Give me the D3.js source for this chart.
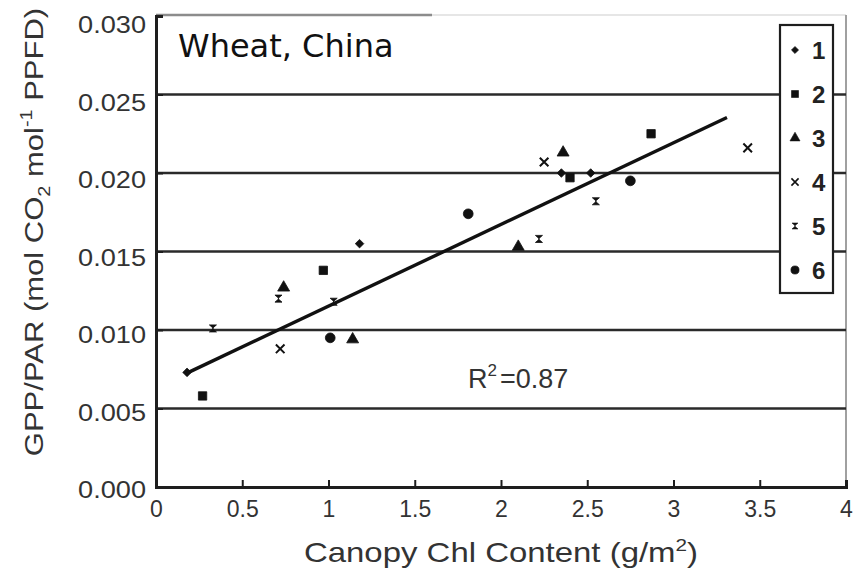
<!DOCTYPE html>
<html>
<head>
<meta charset="utf-8">
<script src="https://cdn.jsdelivr.net/npm/d3@7"></script>
<style>
  html, body { margin: 0; padding: 0; background: #fff; }
  svg { display: block; }
</style>
</head>
<body>
<svg id="chart" width="859" height="579"></svg>
<script>
// Canopy chlorophyll content (g/m2) vs light-use ratio GPP/PAR, six wheat sites
const seriesNames = ["1", "2", "3", "4", "5", "6"];
const chl1 = [0.18, 1.18, 2.35, 2.52];
const gpp1 = [0.0073, 0.0155, 0.0200, 0.0200];
const chl2 = [0.27, 0.97, 2.40, 2.87];
const gpp2 = [0.0058, 0.0138, 0.0197, 0.0225];
const chl3 = [0.74, 1.14, 2.10, 2.36];
const gpp3 = [0.0127, 0.0094, 0.0153, 0.0213];
const chl4 = [0.72, 2.25, 3.43];
const gpp4 = [0.0088, 0.0207, 0.0216];
const chl5 = [0.33, 0.71, 1.03, 2.22, 2.55];
const gpp5 = [0.0101, 0.0120, 0.0118, 0.0158, 0.0182];
const chl6 = [1.01, 1.81, 2.75];
const gpp6 = [0.0095, 0.0174, 0.0195];

// Linear fit drawn over the sampled range
const fitChl = [0.17, 3.31];
const fitSlope = 0.00520;
const fitIntercept = 0.00632;
const rSquared = "0.87";

const xTicks = [0, 0.5, 1, 1.5, 2, 2.5, 3, 3.5, 4];
const yTicks = [0, 0.005, 0.010, 0.015, 0.020, 0.025, 0.030];
const gridValues = [0.005, 0.010, 0.015, 0.020, 0.025];

const chlSeries = [chl1, chl2, chl3, chl4, chl5, chl6];
const gppSeries = [gpp1, gpp2, gpp3, gpp4, gpp5, gpp6];

const SANS = "'Liberation Sans', Arial, sans-serif";
const svg = d3.select("#chart").style("font-family", SANS);
const W = 859, H = 579;
const m = { left: 156, top: 16, right: 13, bottom: 92 };

const x = d3.scaleLinear().domain([0, 4]).range([m.left, W - m.right]);
const y = d3.scaleLinear().domain([0, 0.03]).range([H - m.bottom, m.top]);
// tick labels sit on a slightly compressed scale of their own
const yLab = d3.scaleLinear().domain([0, 0.03]).range([H - m.bottom + 3, m.top + 9]);

const ink = "#1e1e1e";
const labelInk = "#333";
const wide = 1.18; // horizontal widening of the axis lettering

// custom hourglass marker
const symbolHourglass = {
  draw(ctx, size) {
    const r = Math.sqrt(size) / 2;
    ctx.moveTo(-r, -r); ctx.lineTo(r, -r); ctx.lineTo(-r * 0.15, 0); ctx.lineTo(r, r);
    ctx.lineTo(-r, r); ctx.lineTo(r * 0.15, 0); ctx.closePath();
  }
};
const symbolRotSquare = {
  draw(ctx, size) {
    const r = Math.sqrt(size) / 2 * 1.35;
    ctx.moveTo(0, -r); ctx.lineTo(r, 0); ctx.lineTo(0, r); ctx.lineTo(-r, 0); ctx.closePath();
  }
};
const markers = [
  { type: symbolRotSquare, size: 40, fill: true },
  { type: d3.symbolSquare, size: 70, fill: true },
  { type: d3.symbolTriangle, size: 62, fill: true },
  { type: d3.symbolX, size: 50, fill: false },
  { type: symbolHourglass, size: 50, fill: true },
  { type: d3.symbolCircle, size: 75, fill: true }
];

// frame: top and right edges in light grey
svg.append("line").attr("x1", x(0)).attr("x2", x(1.6)).attr("y1", y(0.03) - 1).attr("y2", y(0.03) - 1)
  .attr("stroke", "#8c8c8c").attr("stroke-width", 2.4);
svg.append("line").attr("x1", x(1.6)).attr("x2", x(4)).attr("y1", y(0.03) - 1).attr("y2", y(0.03) - 1)
  .attr("stroke", "#e6e6e6").attr("stroke-width", 2);
svg.append("line").attr("x1", x(4)).attr("x2", x(4)).attr("y1", y(0.03) - 1).attr("y2", y(0))
  .attr("stroke", "#a0a0a0").attr("stroke-width", 2);

// horizontal grid
svg.append("g").selectAll("line").data(gridValues).join("line")
  .attr("x1", x(0)).attr("x2", x(4))
  .attr("y1", d => y(d)).attr("y2", d => y(d))
  .attr("stroke", "#2a2a2a").attr("stroke-width", 2.6);

// x axis (ticks point inward)
const gx = svg.append("g").attr("transform", `translate(0,${y(0)})`)
  .call(d3.axisBottom(x).tickValues(xTicks).tickSize(-7).tickPadding(14).tickFormat(d3.format("")));
gx.select(".domain").attr("stroke", ink).attr("stroke-width", 3);
gx.selectAll(".tick line").attr("stroke", ink).attr("stroke-width", 2);
gx.selectAll(".tick text").style("font-family", SANS).attr("font-size", 23).attr("fill", labelInk);

// y axis
const gy = svg.append("g").attr("transform", `translate(${x(0)},0)`)
  .call(d3.axisLeft(y).tickValues(yTicks).tickSize(-7).tickFormat(() => ""));
gy.select(".domain").attr("stroke", ink).attr("stroke-width", 3);
gy.selectAll(".tick line").attr("stroke", ink).attr("stroke-width", 2);
svg.append("g").selectAll("text").data(yTicks).join("text")
  .attr("transform", d => `translate(${x(0) - 10},${yLab(d)}) scale(${wide},1)`)
  .attr("dy", "0.35em")
  .attr("text-anchor", "end").attr("font-size", 23).attr("fill", labelInk)
  .text(d3.format(".3f"));

// fitted line
const fitLine = d3.line().x(d => x(d)).y(d => y(fitIntercept + fitSlope * d));
svg.append("path").datum(fitChl).attr("d", fitLine)
  .attr("fill", "none").attr("stroke", "#111").attr("stroke-width", 3.4);

// points
chlSeries.forEach((xs, i) => {
  const mk = markers[i];
  const sym = d3.symbol().type(mk.type).size(mk.size);
  svg.append("g").selectAll("path").data(xs.map((v, j) => [v, gppSeries[i][j]])).join("path")
    .attr("transform", d => `translate(${x(d[0])},${y(d[1])})`)
    .attr("d", sym)
    .attr("fill", mk.fill ? "#111" : "none")
    .attr("stroke", "#111").attr("stroke-width", mk.fill ? 0.8 : 2);
});

// legend
const lg = svg.append("g").attr("transform", "translate(780,25)");
lg.append("rect").attr("width", 53).attr("height", 268)
  .attr("fill", "#fff").attr("stroke", ink).attr("stroke-width", 2.2);
seriesNames.forEach((name, i) => {
  const mk = markers[i];
  const cy = 25 + i * 44;
  lg.append("path").attr("transform", `translate(15,${cy})`)
    .attr("d", d3.symbol().type(mk.type).size(mk.size * 0.7))
    .attr("fill", mk.fill ? "#111" : "none").attr("stroke", "#111").attr("stroke-width", mk.fill ? 0.6 : 1.6);
  lg.append("text").attr("x", 32).attr("y", cy).attr("dy", "0.36em")
    .attr("font-size", 24).attr("font-weight", "bold").attr("fill", "#222").text(name);
});

// annotations
svg.append("text").attr("x", 178).attr("y", 57)
  .style("font-family", "'DejaVu Sans', Verdana, sans-serif").attr("font-size", 32).attr("fill", "#111")
  .text("Wheat, China");

const r2 = svg.append("text").attr("x", 468).attr("y", 388).attr("font-size", 27).attr("fill", labelInk);
r2.append("tspan").text("R");
r2.append("tspan").attr("font-size", 17).attr("dy", -12).text("2");
r2.append("tspan").attr("dy", 12).attr("dx", 3).text("=" + rSquared);

// axis titles
const xt = svg.append("text")
  .attr("transform", `translate(${x(2)},562) scale(1.22,1)`).attr("text-anchor", "middle")
  .attr("font-size", 27).attr("fill", labelInk);
xt.append("tspan").text("Canopy Chl Content (g/m");
xt.append("tspan").attr("font-size", 17).attr("dy", -11).text("2");
xt.append("tspan").attr("dy", 11).text(")");

const yt = svg.append("text").attr("transform", `translate(43,${(15 + 449) / 2}) rotate(-90) scale(1.17,1)`)
  .attr("text-anchor", "middle").attr("font-size", 26.5).attr("fill", labelInk);
yt.append("tspan").text("GPP/PAR (mol CO");
yt.append("tspan").attr("font-size", 17).attr("dy", 7).text("2");
yt.append("tspan").attr("dy", -7).text(" mol");
yt.append("tspan").attr("font-size", 17).attr("dy", -11).text("-1");
yt.append("tspan").attr("dy", 11).text(" PPFD)");
</script>
</body>
</html>
